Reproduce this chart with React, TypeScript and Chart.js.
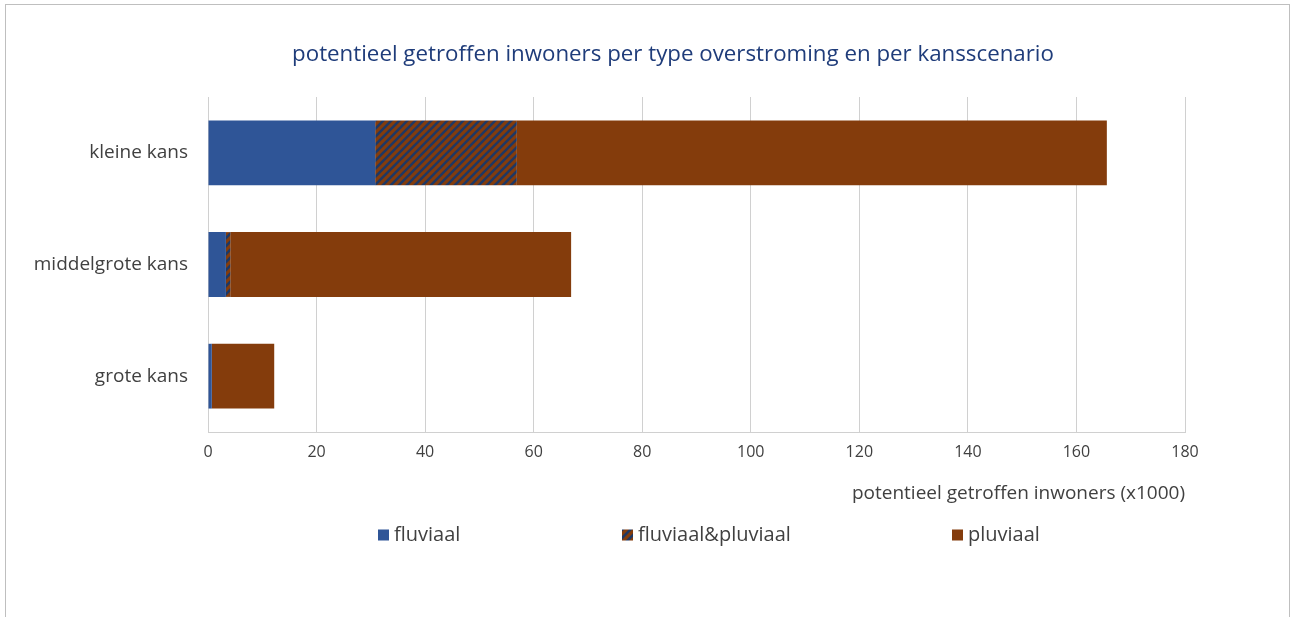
import React, { useEffect, useRef } from "react";
import { Chart, registerables } from "chart.js";

Chart.register(...registerables);

const categories = ["kleine kans", "middelgrote kans", "grote kans"];
const fluviaal = [30.8, 3.3, 0.7];
const fluviaalPluviaal = [26.1, 0.8, 0];
const pluviaal = [108.7, 62.8, 11.5];
const seriesLabels = ["fluviaal", "fluviaal&pluviaal", "pluviaal"];
const titleText = "potentieel getroffen inwoners per type overstroming en per kansscenario";
const xTitleText = "potentieel getroffen inwoners (x1000)";

const BLUE = "#2F5597";
const BROWN = "#843C0C";
const STRIPE = "#1F3864";
const FONT = "'Open Sans', sans-serif";
const TEXT = "#404040";

function makeHatch(): CanvasPattern | string {
  const c = document.createElement("canvas");
  c.width = 8;
  c.height = 8;
  const g = c.getContext("2d");
  if (!g) return BROWN;
  g.fillStyle = BROWN;
  g.fillRect(0, 0, 8, 8);
  g.strokeStyle = STRIPE;
  g.lineWidth = 2.6;
  g.beginPath();
  g.moveTo(-2, 2); g.lineTo(2, -2);
  g.moveTo(0, 8); g.lineTo(8, 0);
  g.moveTo(6, 10); g.lineTo(10, 6);
  g.stroke();
  const p = g.createPattern(c, "repeat");
  return p || BROWN;
}

export default function App() {
  const ref = useRef<HTMLCanvasElement | null>(null);

  useEffect(() => {
    document.body.style.margin = "0";
    document.documentElement.style.overflow = "hidden";
    const canvas = ref.current;
    if (!canvas) return;
    const hatch = makeHatch();
    const fills = [BLUE, hatch, BROWN];

    const textPlugin = {
      id: "customText",
      afterDraw(chart: any) {
        const { ctx, chartArea } = chart;
        ctx.save();
        // title
        ctx.font = `22.3px ${FONT}`;
        ctx.fillStyle = "#1F3C7A";
        ctx.textAlign = "center";
        ctx.textBaseline = "middle";
        ctx.fillText(titleText, 673, chartArea.top - 42);
        // legend
        const y = chartArea.bottom + 103;
        const xs = [378, 622, 952];
        ctx.font = `20px ${FONT}`;
        ctx.textAlign = "left";
        seriesLabels.forEach((lab, i) => {
          ctx.fillStyle = fills[i] as any;
          ctx.fillRect(xs[i], y - 5.5, 11, 11);
          ctx.fillStyle = TEXT;
          ctx.fillText(lab, xs[i] + 16, y);
        });
        ctx.restore();
      },
    };

    const chart = new Chart(canvas, {
      type: "bar",
      data: {
        labels: categories,
        datasets: [
          { label: seriesLabels[0], data: fluviaal, backgroundColor: BLUE },
          { label: seriesLabels[1], data: fluviaalPluviaal, backgroundColor: hatch as any },
          { label: seriesLabels[2], data: pluviaal, backgroundColor: BROWN },
        ],
      },
      options: {
        indexAxis: "y",
        animation: false,
        responsive: false,
        maintainAspectRatio: false,
        datasets: { bar: { categoryPercentage: 1, barPercentage: 0.58, borderWidth: 0 } },
        layout: { padding: { left: 0, right: 111, top: 97, bottom: 0 } },
        plugins: {
          legend: { display: false },
          tooltip: { enabled: false },
          title: { display: false },
        },
        scales: {
          x: {
            stacked: true,
            min: 0,
            max: 180,
            ticks: { stepSize: 20, color: TEXT, font: { family: FONT, size: 16 }, padding: 11 },
            grid: { color: "#D0D0D0", lineWidth: 1, drawTicks: false },
            border: { display: true, color: "#D0D0D0" },
            title: {
              display: true,
              text: xTitleText,
              align: "end",
              color: TEXT,
              font: { family: FONT, size: 19 },
              padding: { top: 0, bottom: 112 },
            },
            afterFit(scale: any) {
              scale.height = 185;
            },
          },
          y: {
            stacked: true,
            ticks: { color: TEXT, font: { family: FONT, size: 19 }, padding: 20 },
            grid: { display: false, drawTicks: false },
            border: { display: false },
            afterFit(scale: any) {
              scale.width = 208;
            },
          },
        },
      },
      plugins: [textPlugin],
    } as any);
    return () => chart.destroy();
  }, []);

  return (
    <div style={{ position: "relative", width: 1296, height: 617, overflow: "hidden", background: "#fff" }}>
      <div
        style={{
          position: "absolute",
          left: 5,
          top: 4,
          width: 1285,
          height: 700,
          border: "1px solid #BFBFBF",
          boxSizing: "border-box",
        }}
      />
      <canvas ref={ref} width={1296} height={617} style={{ position: "absolute", left: 0, top: 0 }} />
    </div>
  );
}
